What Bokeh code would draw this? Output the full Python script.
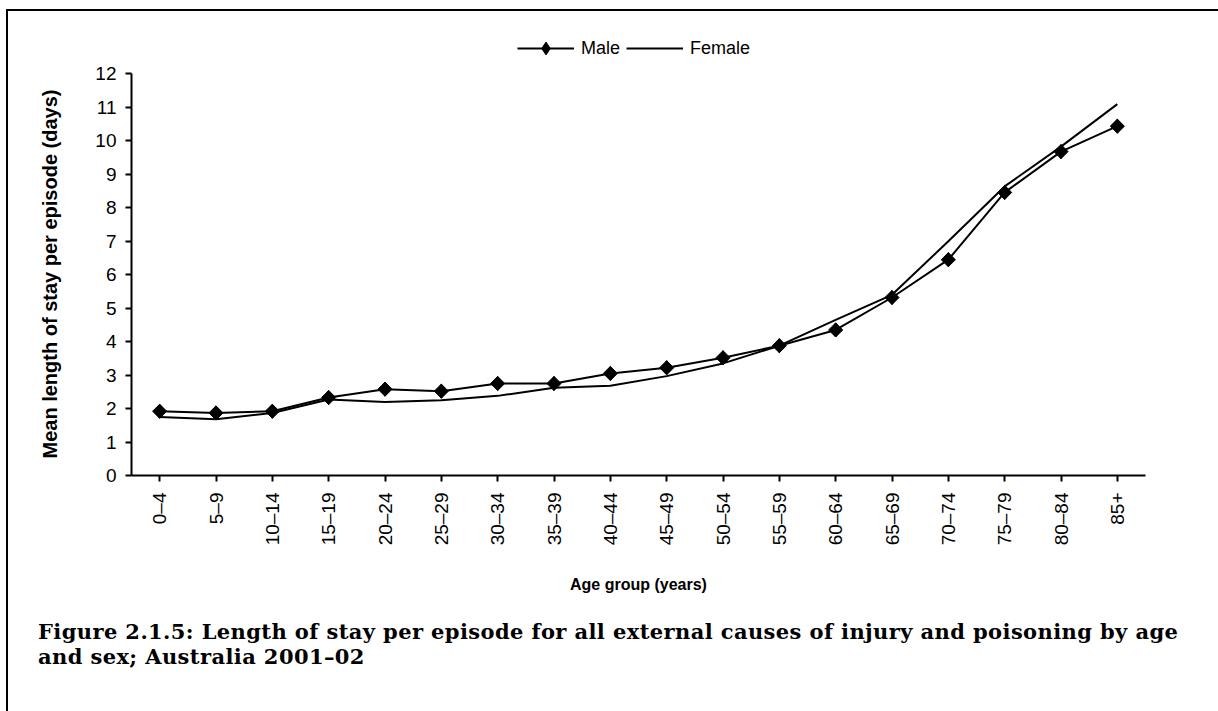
import math
from bokeh.plotting import figure
from bokeh.models import Range1d, FactorRange, FixedTicker, Legend, LegendItem, Div, Title
from bokeh.layouts import column
from bokeh.embed import file_html
from bokeh.resources import INLINE

age_groups = ["0–4", "5–9", "10–14", "15–19", "20–24", "25–29", "30–34", "35–39",
              "40–44", "45–49", "50–54", "55–59", "60–64", "65–69", "70–74",
              "75–79", "80–84", "85+"]
male = [1.92, 1.87, 1.92, 2.33, 2.58, 2.52, 2.75, 2.75, 3.05, 3.22, 3.52, 3.88,
        4.35, 5.32, 6.45, 8.46, 9.68, 10.44]
female = [1.75, 1.68, 1.87, 2.27, 2.20, 2.25, 2.38, 2.62, 2.68, 2.97, 3.35, 3.88,
          4.65, 5.40, 7.00, 8.64, 9.83, 11.10]
y_ticks = list(range(0, 13))

x_title = "Age group (years)"
y_title = "Mean length of stay per episode (days)"
caption1 = "Figure 2.1.5: Length of stay per episode for all external causes of injury and poisoning by age"
caption2 = "and sex; Australia 2001–02"

SANS = "Liberation Sans"
SERIF = "DejaVu Serif"

# frame reaches up to hold the legend; the axis itself is bounded to 0..12
p = figure(x_range=FactorRange(*age_groups, range_padding=0),
           y_range=Range1d(0, 13.21),
           frame_width=1014, frame_height=442,
           min_border_left=121, min_border_right=73,
           min_border_top=22, min_border_bottom=139,
           output_backend="svg", toolbar_location=None)

p.outline_line_color = None
p.xgrid.grid_line_color = None
p.ygrid.grid_line_color = None
p.background_fill_color = "white"
p.border_fill_color = "white"

for ax in (p.xaxis[0], p.yaxis[0]):
    ax.axis_line_width = 2
    ax.axis_line_color = "black"
    ax.major_tick_line_width = 2
    ax.major_tick_line_color = "black"
    ax.major_tick_out = 6
    ax.major_tick_in = 0
    ax.minor_tick_line_color = None
    ax.major_label_text_font = SANS
    ax.major_label_text_font_size = "19px"
    ax.major_label_text_color = "black"
    ax.axis_label_text_font = SANS
    ax.axis_label_text_font_style = "bold"
    ax.axis_label_text_color = "black"

p.yaxis[0].ticker = FixedTicker(ticks=y_ticks)
p.yaxis[0].bounds = (0, 12)
p.yaxis[0].major_label_standoff = 9

# y-axis title, centred on the 0..12 part of the axis
p.add_layout(Title(text=y_title, align="left", offset=17, standoff=60,
                   vertical_align="top", text_font=SANS, text_font_style="bold",
                   text_font_size="20px", text_color="black"), "left")

p.xaxis[0].major_label_orientation = math.pi / 2
p.xaxis[0].major_label_standoff = 11
p.xaxis[0].axis_label = x_title
p.xaxis[0].axis_label_text_font_size = "16px"
p.xaxis[0].axis_label_standoff = 28

male_line = p.line(age_groups, male, line_color="black", line_width=2)
male_diamond = p.scatter(age_groups, male, marker="diamond", size=14,
                         fill_color="black", line_color="black")
male_pts = p.scatter(age_groups, male, marker="square", size=10, angle=math.pi / 4,
                     fill_color="black", line_color="black")
female_line = p.line(age_groups, female, line_color="black", line_width=2)

legend = Legend(items=[LegendItem(label="Male", renderers=[male_line, male_diamond]),
                       LegendItem(label="Female", renderers=[female_line])],
                orientation="horizontal", location=(386, 411),
                padding=0, margin=0, spacing=6, glyph_width=57, glyph_height=32,
                label_standoff=7, border_line_color=None, background_fill_alpha=0,
                label_text_font=SANS, label_text_font_size="18px",
                label_text_color="black")
p.add_layout(legend, "center")

caption = Div(text=(f'<div style="font-family: \'{SERIF}\'; font-weight: bold; '
                    f'font-size: 21px; letter-spacing: 0.4px; line-height: 25px; '
                    f'white-space: nowrap; color: black; padding-left: 25px;">'
                    f'{caption1}<br>{caption2}</div>'),
              width=1180, height=94)

layout = column(p, caption, spacing=0,
                styles={"border-left": "2px solid black", "border-top": "2px solid black",
                        "margin-left": "6px", "margin-top": "9px"})

open("out.html", "w").write(file_html(layout, INLINE))
